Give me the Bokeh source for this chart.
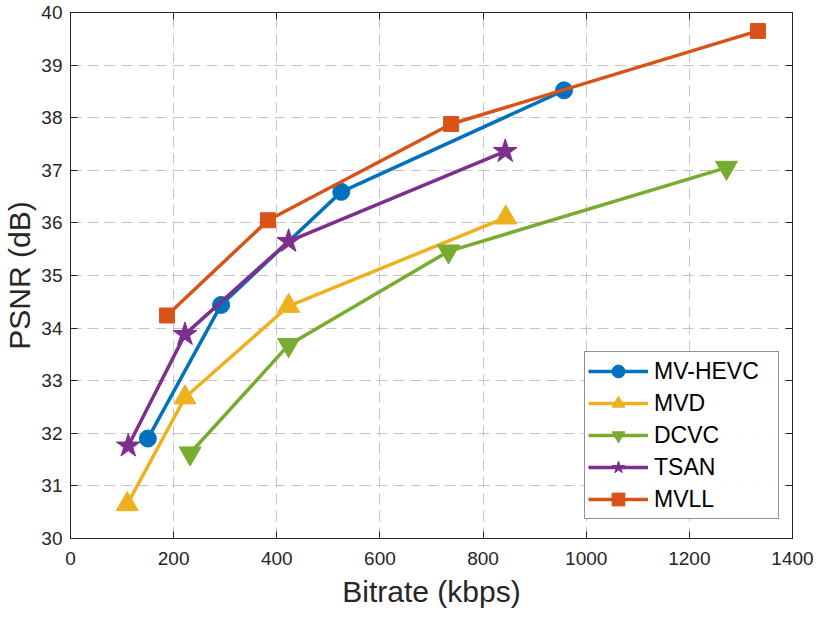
from bokeh.plotting import figure
from bokeh.models import LinearAxis, FixedTicker, Legend, LegendItem, Range1d
from bokeh.embed import file_html
from bokeh.resources import INLINE

# ---- data ----
bitrate_hevc = [150, 292, 525, 957]
psnr_hevc = [31.90, 34.44, 36.59, 38.52]
bitrate_mvd = [110, 222, 423, 844]
psnr_mvd = [30.65, 32.68, 34.42, 36.10]
bitrate_dcvc = [232, 423, 733, 1272]
psnr_dcvc = [31.62, 33.68, 35.46, 37.05]
bitrate_tsan = [112, 222, 423, 843]
psnr_tsan = [31.76, 33.88, 35.65, 37.36]
bitrate_mvll = [187, 383, 738, 1333]
psnr_mvll = [34.24, 36.05, 37.88, 39.65]

x_ticks = [0, 200, 400, 600, 800, 1000, 1200, 1400]
y_ticks = [30, 31, 32, 33, 34, 35, 36, 37, 38, 39, 40]

series = [
    ("MV-HEVC", bitrate_hevc, psnr_hevc, "#0072BD", "circle", 17),
    ("MVD", bitrate_mvd, psnr_mvd, "#EDB120", "triangle", 22),
    ("DCVC", bitrate_dcvc, psnr_dcvc, "#77AC30", "inverted_triangle", 22),
    ("TSAN", bitrate_tsan, psnr_tsan, "#7E2F8E", "star", 25),
    ("MVLL", bitrate_mvll, psnr_mvll, "#D95319", "square", 15),
]

FONT = "Liberation Sans"
AX = "#262626"

p = figure(width=814, height=610, output_backend="svg", toolbar_location=None,
           x_range=Range1d(0, 1400), y_range=Range1d(30, 40),
           min_border_left=10, min_border_right=22, min_border_top=12, min_border_bottom=10)
p.xaxis.visible = False
p.yaxis.visible = False

def style(ax, labels=True):
    ax.axis_line_color = AX
    ax.axis_line_width = 1
    ax.major_tick_line_color = AX
    ax.major_tick_in = 7
    ax.major_tick_out = 0
    ax.minor_tick_line_color = None
    ax.major_label_text_font = FONT
    if labels:
        ax.major_label_text_font_size = "19px"
        ax.major_label_text_color = AX
    else:
        ax.major_label_text_font_size = "1px"
        ax.major_label_text_color = None
        ax.major_label_standoff = 0

xb = LinearAxis(ticker=FixedTicker(ticks=x_ticks), axis_label="Bitrate (kbps)")
style(xb)
xb.major_label_standoff = 13
xb.axis_label_standoff = 7
xb.axis_label_text_font = FONT
xb.axis_label_text_font_size = "30px"
xb.axis_label_text_font_style = "normal"
xb.axis_label_text_color = AX
p.add_layout(xb, "below")

yl = LinearAxis(ticker=FixedTicker(ticks=y_ticks), axis_label="PSNR (dB)")
style(yl)
yl.major_label_standoff = 8
yl.axis_label_standoff = 2
yl.axis_label_text_font = FONT
yl.axis_label_text_font_size = "30px"
yl.axis_label_text_font_style = "normal"
yl.axis_label_text_color = AX
p.add_layout(yl, "left")

xt = LinearAxis(ticker=FixedTicker(ticks=x_ticks))
style(xt, labels=False)
p.add_layout(xt, "above")
yr = LinearAxis(ticker=FixedTicker(ticks=y_ticks))
style(yr, labels=False)
p.add_layout(yr, "right")

p.xgrid.ticker = FixedTicker(ticks=x_ticks)
p.ygrid.ticker = FixedTicker(ticks=y_ticks)
for g in (p.xgrid, p.ygrid):
    g.grid_line_color = "#c4c4c4"
    g.grid_line_width = 1
    g.grid_line_dash = "11 6"

p.outline_line_color = AX
p.background_fill_color = "white"
p.border_fill_color = "white"

items = []
for name, xs, ys, color, marker, size in series:
    r1 = p.line(xs, ys, line_color=color, line_width=3.5)
    r2 = p.scatter(xs, ys, marker=marker, size=size, fill_color=color, line_color=color)
    items.append(LegendItem(label=name, renderers=[r1, r2]))

legend = Legend(items=items, location=(514, 19))
legend.label_text_font = FONT
legend.label_text_font_size = "23px"
legend.label_text_color = "black"
legend.glyph_width = 60
legend.glyph_height = 32
legend.label_height = 32
legend.label_width = 121
legend.spacing = 0
legend.padding = 3
legend.margin = 0
legend.label_standoff = 6
legend.border_line_color = AX
legend.border_line_width = 1
legend.background_fill_color = "white"
p.add_layout(legend, "center")

open("out.html", "w").write(file_html(p, INLINE))
